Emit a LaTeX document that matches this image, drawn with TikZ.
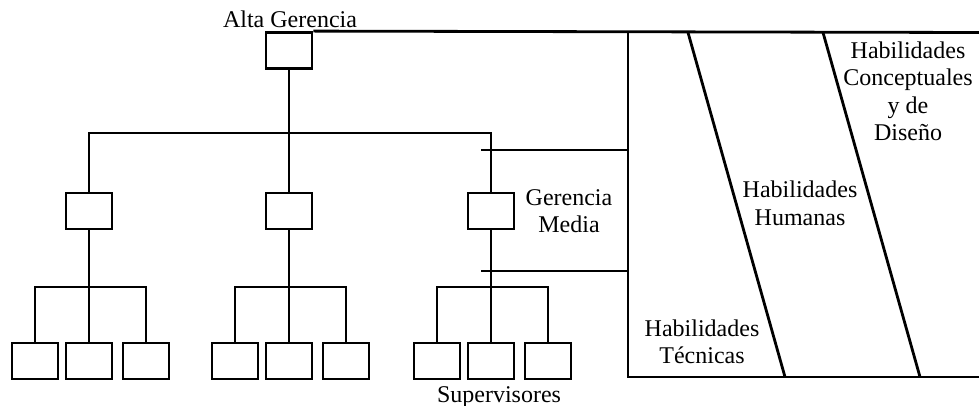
\documentclass[tikz,border=0pt]{standalone}
\usepackage{fontspec}
\setmainfont{Liberation Serif}

\begin{document}
\begin{tikzpicture}[x=0.5pt,y=-0.5pt,line width=1.4pt,
  puesto/.style={draw,minimum width=23pt,minimum height=18pt,inner sep=0pt},
  rotulo/.style={align=center,inner sep=0pt,font=\fontsize{12}{13.75}\selectfont}]

  \useasboundingbox (0,0) rectangle (979,406);

  % organigrama
  \node [puesto] (alta) at (289,50.5) {};
  \foreach \i/\x in {1/89,2/289,3/491}
    \node [puesto] (med\i) at (\x,211) {};
  \foreach \i/\x in {1/89,2/289,3/491}{
    \node [puesto] (sup\i a) at (\x-54,361) {};
    \node [puesto] (sup\i b) at (\x,361) {};
    \node [puesto] (sup\i c) at (\x+57,361) {};
  }

  \coordinate (rama) at (alta |- 0,133);
  \draw (alta) -- (rama);
  \draw (med1.north) |- (rama) -| (med3.north);
  \draw (rama) -- (med2);
  \foreach \i in {1,2,3}{
    \coordinate (rama\i) at (med\i |- 0,287);
    \draw (med\i) -- (rama\i);
    \draw (sup\i a.north) |- (rama\i) -| (sup\i c.north);
    \draw (rama\i) -- (sup\i b);
  }

  % cuadro de habilidades
  \coordinate (marco-no) at (628,32.5);
  \coordinate (marco-ne) at (979,32.5);
  \coordinate (marco-so) at (628,377);
  \coordinate (marco-se) at (979,377);
  \draw (alta.north east) -- (marco-ne);
  \draw (marco-no) -- (marco-so) -- (marco-se);
  \draw (688,32.5) -- (785,377);
  \draw (823,32.5) -- (920,377);

  % nivel medio
  \coordinate (medio-a) at (481,150);
  \coordinate (medio-b) at (481,271);
  \draw (medio-a) -- (medio-a -| marco-no);
  \draw (medio-b) -- (medio-b -| marco-no);

  % textos
  \node [rotulo,anchor=base] (t-alta) at (290,28) {Alta Gerencia};
  \node [rotulo] (t-media) at (569,211) {Gerencia\\Media};
  \node [rotulo,anchor=base] (t-sup) at (499,402) {Supervisores};
  \node [rotulo] (t-tec) at (702,342) {Habilidades\\T\'ecnicas};
  \node [rotulo] (t-hum) at (800,203.5) {Habilidades\\Humanas};
  \node [rotulo] (t-con) at (908,91.5) {Habilidades\\Conceptuales\\y de\\Dise\~no};
\end{tikzpicture}
\end{document}
